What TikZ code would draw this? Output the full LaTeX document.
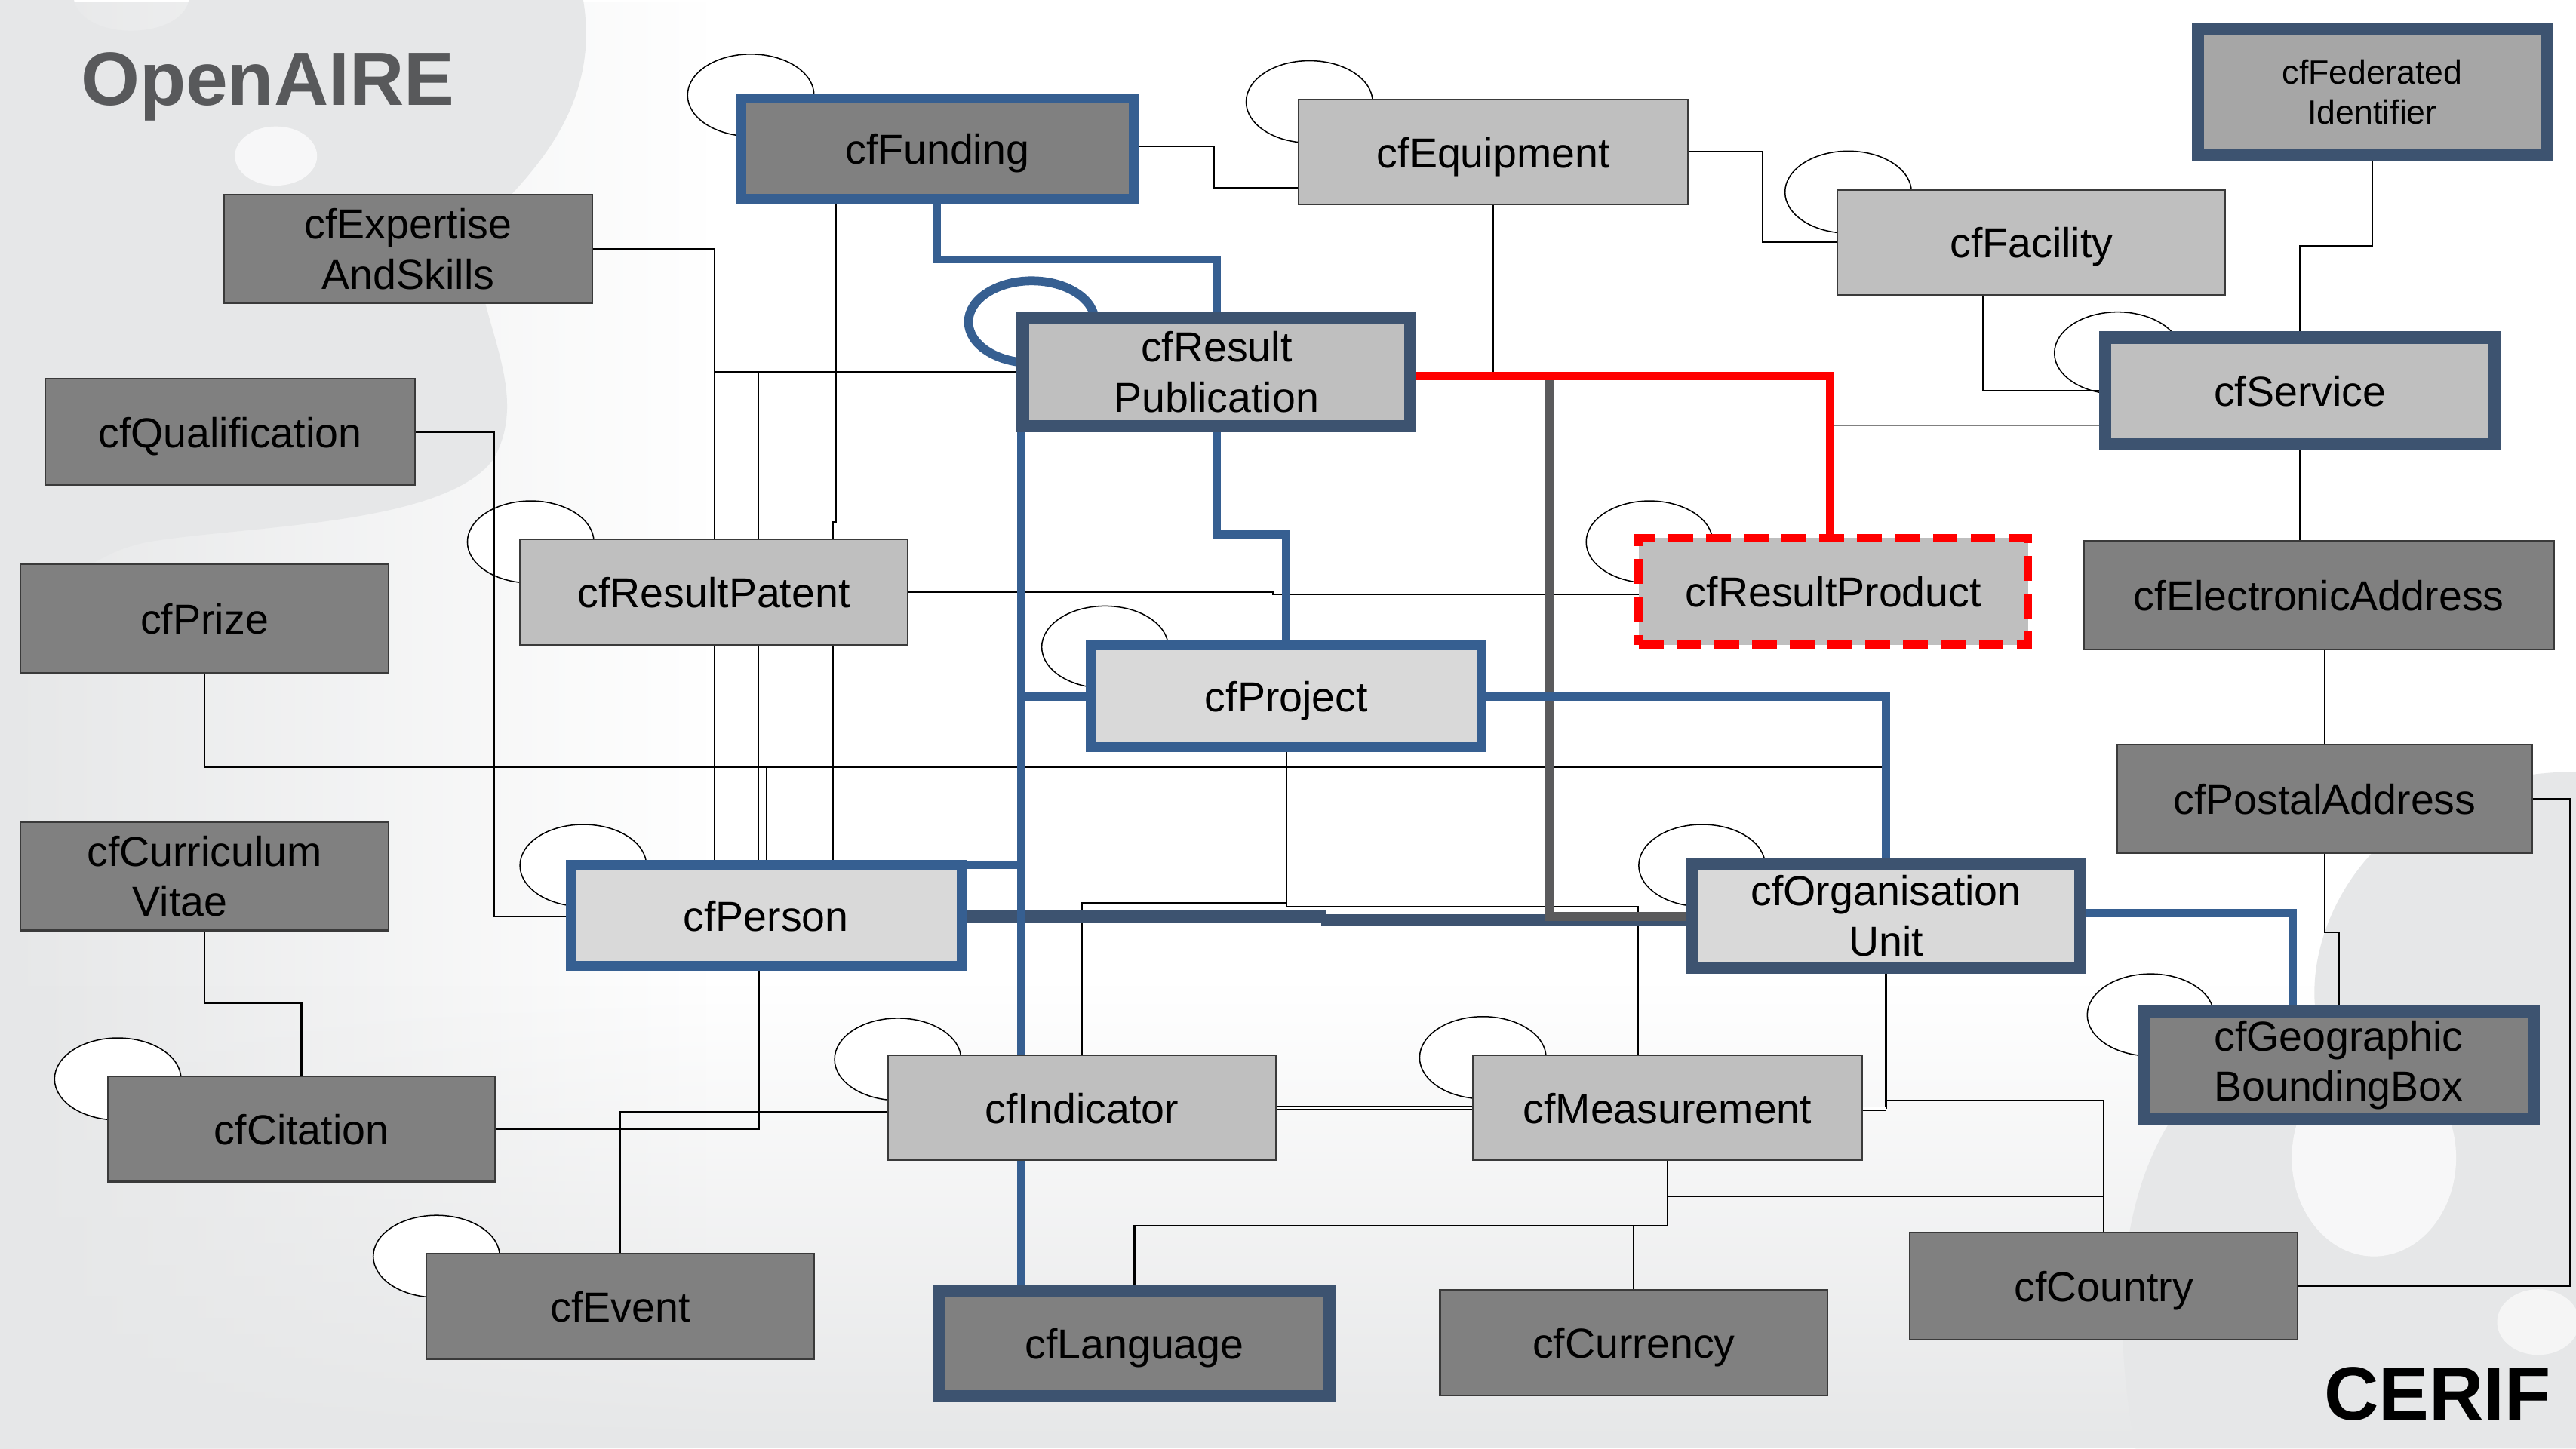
\documentclass[tikz,border=0pt]{standalone}
\usepackage{fontspec}
\setmainfont{Liberation Sans}
\usetikzlibrary{fadings}
\definecolor{bluec}{HTML}{365F91}
\definecolor{slatec}{HTML}{3D5370}
\definecolor{graylc}{HTML}{5A5A5C}
\definecolor{dgfill}{HTML}{808080}
\definecolor{lgfill}{HTML}{BFBFBF}
\definecolor{llfill}{HTML}{D9D9D9}
\definecolor{fedfill}{HTML}{A6A6A6}
\definecolor{boxline}{HTML}{3A3A3A}
\definecolor{titlec}{HTML}{58595B}
\definecolor{bgg}{HTML}{E6E7E8}
\pgfdeclarelayer{bgl}\pgfdeclarelayer{circl}\pgfdeclarelayer{linel}
\pgfsetlayers{bgl,circl,linel,main}
\newcommand\entfnt{\fontsize{25.5}{30.6}\selectfont}
\newcommand\fedfnt{\fontsize{20.5}{24.6}\selectfont}
\newcommand\titlefnt{\fontsize{46}{50}\selectfont\bfseries}
\newcommand\entbox[8]{\node[entity,#7,minimum width={#4-#2-#6},minimum height={#5-#3-#6}] (#1) at ({(#2+#4)/2},{(#3+#5)/2}) {#8};}
\newcommand\loopat[2]{\draw[loopc] (#1,#2) ellipse [x radius=38.5pt, y radius=25pt];}
\begin{document}
\begin{tikzpicture}[x=1pt,y=-1pt,
  entity/.style={rectangle, inner sep=0pt, outer sep=0pt, align=center, font=\entfnt, text=black},
  one/.style={text height=19pt, text depth=0pt},
  plainbox/.style={draw=boxline, line width=1pt},
  bluebox/.style={draw=bluec, line width=6pt},
  slatebox/.style={draw=slatec, line width=7.5pt},
  redbox/.style={draw=red, line width=5pt, dash pattern=on 15pt off 8pt},
  fdg/.style={fill=dgfill}, flg/.style={fill=lgfill}, fll/.style={fill=llfill}, ffed/.style={fill=fedfill},
  loopc/.style={draw=black, fill=white, line width=0.7pt},
  conn/.style={draw=black, line width=1pt},
  dconn/.style={draw=black, line width=0.7pt, double=white, double distance=1.4pt},
  gconn/.style={draw=gray, line width=0.8pt},
  blueline/.style={draw=bluec, line width=5pt, line join=miter},
  slateline/.style={draw=slatec, line width=7pt},
  grayline/.style={draw=graylc, line width=5.4pt, line join=miter},
  redline/.style={draw=red, line width=5pt, line join=miter}
]
\useasboundingbox (0,0) rectangle (1568,882);
\begin{pgfonlayer}{bgl}
\fill[white] (0,0) rectangle (1568,882);
\fill[bgg, path fading=east] (0,0) rectangle (430,882);
\fill[bgg, path fading=north] (0,600) rectangle (1568,882);
\fill[bgg] (0,0) -- (45,0) .. controls (50,25) and (110,25) .. (115,0) -- (355,0)
  .. controls (365,60) and (330,100) .. (300,130) .. controls (270,170) and (330,230) .. (300,280)
  .. controls (270,320) and (150,320) .. (90,330) .. controls (40,340) and (20,380) .. (0,400) -- cycle;
\fill[white, opacity=0.7] (168,95) ellipse [x radius=25pt, y radius=18pt];
\fill[bgg] (1568,470) .. controls (1450,470) and (1400,560) .. (1410,620)
  .. controls (1290,650) and (1280,780) .. (1300,882) -- (1568,882) -- cycle;
\fill[white, opacity=0.7] (1445,705) ellipse [x radius=50pt, y radius=60pt];
\fill[white, opacity=0.6] (1545,805) ellipse [x radius=25pt, y radius=20pt];
\end{pgfonlayer}

% entities
\entbox{funding}{448}{57}{693}{124}{6}{bluebox,fdg,one}{cfFunding}
\entbox{equip}{790}{60}{1028}{125}{1}{plainbox,flg,one}{cfEquipment}
\entbox{fed}{1334}{14}{1554}{98}{7.5}{slatebox,ffed,font=\fedfnt}{cfFederated\\Identifier}
\entbox{facility}{1118}{115}{1355}{180}{1}{plainbox,flg,one}{cfFacility}
\entbox{service}{1278}{202}{1522}{274}{7}{slatebox,flg,one}{cfService}
\entbox{expert}{136}{118}{361}{185}{1}{plainbox,fdg}{cfExpertise\\AndSkills}
\entbox{qual}{27}{230}{253}{296}{1}{plainbox,fdg,one}{cfQualification}
\entbox{respub}{619}{190}{862}{263}{7}{slatebox,flg}{cfResult\\Publication}
\entbox{respat}{316}{328}{553}{393}{1}{plainbox,flg,one}{cfResultPatent}
\entbox{resprod}{995}{325}{1237}{395}{5}{redbox,flg,one}{cfResultProduct}
\entbox{eaddr}{1268}{329}{1555}{396}{1}{plainbox,fdg,one}{cfElectronicAddress}
\entbox{prize}{12}{343}{237}{410}{1}{plainbox,fdg,one}{cfPrize}
\entbox{project}{661}{390}{905}{458}{6}{bluebox,fll,one}{cfProject}
\entbox{postal}{1288}{453}{1542}{520}{1}{plainbox,fdg,one}{cfPostalAddress}
\entbox{cv}{12}{500}{237}{567}{1}{plainbox,fdg}{cfCurriculum\\Vitae\hspace*{30pt}}
\entbox{person}{344.5}{524}{588}{591}{5.5}{bluebox,fll,one}{cfPerson}
\entbox{orgunit}{1026}{522}{1270}{593}{7.5}{slatebox,fll}{cfOrganisation\\Unit}
\entbox{geobb}{1301}{612}{1546}{685}{7.5}{slatebox,fdg}{cfGeographic\\BoundingBox}
\entbox{indicator}{540}{642}{777}{707}{1}{plainbox,flg,one}{cfIndicator}
\entbox{measure}{896}{642}{1134}{707}{1}{plainbox,flg,one}{cfMeasurement}
\entbox{citation}{65}{655}{302}{720}{1}{plainbox,fdg,one}{cfCitation}
\entbox{country}{1162}{750}{1399}{816}{1}{plainbox,fdg,one}{cfCountry}
\entbox{event}{259}{763}{496}{828}{1}{plainbox,fdg,one}{cfEvent}
\entbox{language}{568}{782}{813}{854}{7.5}{slatebox,fdg,one}{cfLanguage}
\entbox{currency}{876}{785}{1113}{850}{1}{plainbox,fdg,one}{cfCurrency}

\node[anchor=base west, inner sep=0pt, font=\titlefnt, text=titlec] (openaire) at (49,64) {OpenAIRE};
\node[anchor=base east, inner sep=0pt, font=\titlefnt, text=black] (cerif) at (1553,864.5) {CERIF};

% self-relationship loops
\begin{pgfonlayer}{circl}
\loopat{457}{58}
\loopat{797}{62}
\loopat{1125}{117}
\loopat{1289}{215}
\loopat{323}{330}
\loopat{355}{527}
\loopat{672.6}{394}
\loopat{1004}{330}
\loopat{1036}{527}
\loopat{1309}{618}
\loopat{546.5}{645}
\loopat{902.6}{644}
\loopat{71.7}{657}
\loopat{265.7}{765}
\draw[draw=bluec, line width=5.4pt] (628,196) ellipse [x radius=38.5pt, y radius=25pt];
\end{pgfonlayer}

\begin{pgfonlayer}{linel}
\coordinate (jA) at (435,226.6);
\draw[conn] (expert.east) -| (person.north -| 435,0);
\draw[conn] (respub.west |- 0,226.6) -- (jA);
\draw[conn] (respub.west |- 0,226.6) -| (person.north -| 461.5,0);
\draw[conn] (prize.south) |- (466.7,467) -- (person.north -| 466.7,0);
\draw[conn] (prize.south) |- (1148,467) -- (orgunit.north -| 1148,0);
\draw[conn] (funding.south -| 509,0) -- (509,318) -- (507,318) -- (person.north -| 507,0);
\draw[conn] (qual.east) -| (300.6,558) -- (person.west |- 0,558);
\draw[conn] (cv.south) |- (citation.north |- 0,611) -- (citation.north);
\draw[conn] (citation.east) -| (person.south -| 462,0);
\draw[conn] (event.north) |- (indicator.west |- 0,677);
\draw[conn] (project.south) |- (indicator.north |- 0,549.6) -- (indicator.north);
\draw[conn] (project.south) |- (997,552) -- (measure.north -| 997,0);
\draw[dconn] (indicator.east) -- (measure.west);
\draw[conn] (measure.south) |- (language.north |- 0,746.5) -- (language.north);
\draw[conn] (measure.south) |- (currency.north |- 0,746.5) -- (currency.north);
\draw[conn] (measure.south) |- (country.north |- 0,728.5) -- (country.north);
\draw[conn] (orgunit.south -| 1148,0) -- (1148,675);
\draw[dconn] (1148,675) -- (measure.east |- 0,675);
\draw[conn] (1148,670) -| (country.north);
\draw[conn] (postal.south) |- (1423.5,567.5) -- (geobb.north -| 1423.5,0);
\draw[conn] (postal.east) -| (1564.5,783) -- (country.east);
\draw[conn] (service.south) -- (eaddr.north -| service.south);
\draw[conn] (eaddr.south -| postal.north) -- (postal.north);
\draw[conn] (fed.south) |- (service.north |- 0,149.7) -- (service.north);
\draw[conn] (facility.south -| 1207,0) |- (service.west |- 0,238);
\draw[gconn] (resprod.north -| 1116,0) |- (service.west |- 0,259);
\draw[conn] (equip.east) -| (1073,147.5) -- (facility.west);
\draw[conn] (funding.east |- 0,89) -| (739,114.4) -- (equip.west |- 0,114.4);
\draw[conn] (equip.south) -- (equip.south |- 0,229);
\draw[conn] (respat.east) -- (775,360.5) -- (775,362) -- (resprod.west |- 0,362);
% thick relations
\draw[slateline] (person.east |- 0,558) -- (807,558);
\draw[slateline] (804,560) -- (orgunit.west |- 0,560);
\draw[grayline] (943.5,231) -- (943.5,558) -- (orgunit.west |- 0,558);
\draw[redline] (respub.east |- 0,229) -| (resprod.north -| 1114,0);
\draw[blueline] (funding.south -| 570,0) |- (respub.north |- 0,158) -- (respub.north);
\draw[blueline] (respub.south) |- (project.north |- 0,325.5) -- (project.north);
\draw[blueline] (respub.south -| 621.5,0) -- (language.north -| 621.5,0);
\draw[blueline] (project.west) -- (621.5,424);
\draw[blueline] (person.east |- 0,526.6) -- (621.5,526.6);
\draw[blueline] (project.east) -| (orgunit.north -| 1148,0);
\draw[blueline] (orgunit.east |- 0,556) -| (geobb.north -| 1395.5,0);
\end{pgfonlayer}
\end{tikzpicture}
\end{document}
